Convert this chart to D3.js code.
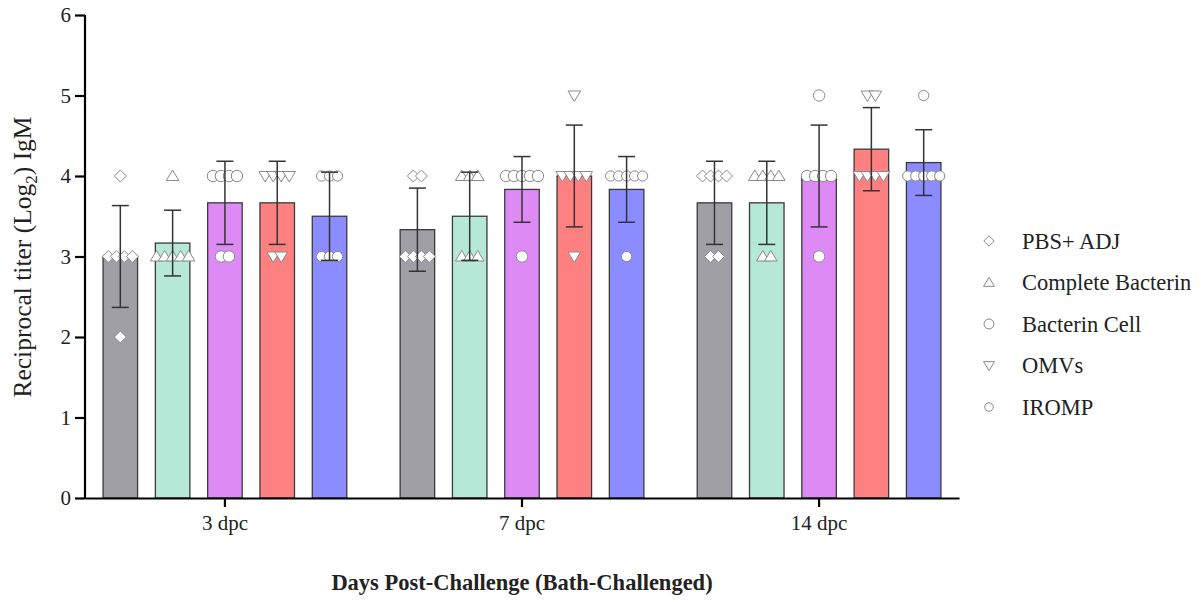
<!DOCTYPE html>
<html>
<head>
<meta charset="utf-8">
<script src="https://cdn.jsdelivr.net/npm/d3@7"></script>
<style>
  body { margin: 0; background: #fff; }
  svg text { font-family: "Liberation Serif", "Times New Roman", Times, serif; }
</style>
</head>
<body>
<div id="chart"></div>
<script>
// days post challenge
var days = ["3 dpc", "7 dpc", "14 dpc"];
var groups = ["PBS+ ADJ", "Complete Bacterin", "Bacterin Cell", "OMVs", "IROMP"];

// individual fish titers (log2) per group, one array per day
var pbsAdj      = [[2, 3, 3, 3, 3, 4], [3, 3, 3, 3, 4, 4], [3, 3, 4, 4, 4, 4]];
var complete    = [[3, 3, 3, 3, 3, 4], [3, 3, 3, 4, 4, 4], [3, 3, 4, 4, 4, 4]];
var bacterinCell = [[3, 3, 4, 4, 4, 4], [3, 4, 4, 4, 4, 4], [3, 4, 4, 4, 4, 5]];
var omvs        = [[3, 3, 4, 4, 4, 4], [3, 4, 4, 4, 4, 5], [4, 4, 4, 4, 5, 5]];
var iromp       = [[3, 3, 3, 4, 4, 4], [3, 4, 4, 4, 4, 4], [4, 4, 4, 4, 4, 5]];

var yTicks = [0, 1, 2, 3, 4, 5, 6];

var colors = ["#a09fa5", "#b5e8d6", "#dd8af5", "#ff8080", "#8a8cff"];
var shapes = ["diamond", "triangle", "circle", "triangleDown", "smallCircle"];

var allValues = [pbsAdj, complete, bacterinCell, omvs, iromp];

var W = 1201, H = 602;
var margin = {top: 15, right: 242, bottom: 104, left: 85},
    width = W - margin.left - margin.right,
    height = H - margin.top - margin.bottom;

var svg = d3.select("#chart").append("svg")
    .attr("width", W)
    .attr("height", H);

var g = svg.append("g")
    .attr("transform", "translate(" + margin.left + "," + margin.top + ")");

var x0 = d3.scaleBand().domain(days).range([0, width]).paddingInner(0).paddingOuter(-0.029);
var x1 = d3.scaleBand().domain(groups).range([0, x0.bandwidth()]).paddingInner(0.34).paddingOuter(0.51);
var y = d3.scaleLinear().domain([0, 6]).range([height, 0]);

// build the bar table: mean and sd per day & group
var bars = [];
days.forEach(function(day, di) {
    groups.forEach(function(grp, gi) {
        var vals = allValues[gi][di];
        bars.push({
            day: day, group: grp, gi: gi, values: vals,
            mean: d3.mean(vals), sd: d3.deviation(vals)
        });
    });
});

function symbolPath(shape, s) {
    var p = d3.path();
    if (shape === "diamond") {
        p.moveTo(0, -s); p.lineTo(s, 0); p.lineTo(0, s); p.lineTo(-s, 0); p.closePath();
    } else if (shape === "triangle") {
        p.moveTo(0, -s); p.lineTo(s * 1.05, s * 0.75); p.lineTo(-s * 1.05, s * 0.75); p.closePath();
    } else if (shape === "triangleDown") {
        p.moveTo(0, s); p.lineTo(s * 1.05, -s * 0.75); p.lineTo(-s * 1.05, -s * 0.75); p.closePath();
    } else if (shape === "circle") {
        p.arc(0, 0, s * 0.95, 0, 2 * Math.PI);
    } else {
        p.arc(0, 0, s * 0.85, 0, 2 * Math.PI);
    }
    return p.toString();
}

// bars
g.selectAll(".bar")
    .data(bars)
    .enter().append("rect")
    .attr("class", "bar")
    .attr("x", function(d) { return x0(d.day) + x1(d.group); })
    .attr("y", function(d) { return y(d.mean); })
    .attr("width", x1.bandwidth())
    .attr("height", function(d) { return height - y(d.mean); })
    .style("fill", function(d) { return colors[d.gi]; })
    .style("stroke", "#3a3a3a")
    .style("stroke-width", 1.3);

// individual points, spread sideways when they share a value
var pts = [];
bars.forEach(function(b) {
    var counts = d3.rollup(b.values, function(v) { return v.length; }, function(v) { return v; });
    var seen = new Map();
    b.values.forEach(function(v) {
        var k = counts.get(v), i = seen.get(v) || 0;
        seen.set(v, i + 1);
        pts.push({
            cx: x0(b.day) + x1(b.group) + x1.bandwidth() / 2 + (i - (k - 1) / 2) * 8,
            cy: y(v), gi: b.gi
        });
    });
});

g.selectAll(".pt")
    .data(pts)
    .enter().append("path")
    .attr("class", "pt")
    .attr("transform", function(d) { return "translate(" + d.cx + "," + d.cy + ")"; })
    .attr("d", function(d) { return symbolPath(shapes[d.gi], 6); })
    .style("fill", "#fff")
    .style("stroke", "#8a8a8a")
    .style("stroke-width", 1);

// error bars (mean ± SD)
var err = g.selectAll(".err")
    .data(bars)
    .enter().append("g")
    .attr("class", "err")
    .attr("transform", function(d) { return "translate(" + (x0(d.day) + x1(d.group) + x1.bandwidth() / 2) + ",0)"; })
    .style("stroke", "#333")
    .style("stroke-width", 1.5);

err.append("line")
    .attr("y1", function(d) { return y(d.mean + d.sd); })
    .attr("y2", function(d) { return y(d.mean - d.sd); });
err.append("line")
    .attr("x1", -8.5).attr("x2", 8.5)
    .attr("y1", function(d) { return y(d.mean + d.sd); })
    .attr("y2", function(d) { return y(d.mean + d.sd); });
err.append("line")
    .attr("x1", -8.5).attr("x2", 8.5)
    .attr("y1", function(d) { return y(d.mean - d.sd); })
    .attr("y2", function(d) { return y(d.mean - d.sd); });

// axes
var yAxis = g.append("g")
    .attr("class", "y axis")
    .call(d3.axisLeft(y).tickValues(yTicks).tickSize(10).tickSizeOuter(0).tickPadding(4).tickFormat(d3.format("d")));
yAxis.attr("font-family", null).attr("font-size", null);
yAxis.select(".domain").attr("d", "M0," + (height + 1) + "V0").style("stroke", "#000").style("stroke-width", 2.2);
yAxis.selectAll(".tick line").style("stroke", "#000").style("stroke-width", 2.2);
yAxis.selectAll(".tick text").style("font-size", "21px").attr("fill", "#222");

var xAxis = g.append("g")
    .attr("class", "x axis")
    .attr("transform", "translate(0," + height + ")")
    .call(d3.axisBottom(x0).tickSize(9).tickSizeOuter(0).tickPadding(8));
xAxis.attr("font-family", null).attr("font-size", null);
xAxis.select(".domain").style("stroke", "#000").style("stroke-width", 2.2);
xAxis.selectAll(".tick line").style("stroke", "#000").style("stroke-width", 2.2);
xAxis.selectAll(".tick text").style("font-size", "21px").attr("fill", "#222");

// axis titles
svg.append("text")
    .attr("x", margin.left + x0(days[1]) + x0.bandwidth() / 2)
    .attr("y", 590)
    .style("text-anchor", "middle")
    .style("font-size", "22.5px")
    .style("font-weight", "bold")
    .attr("fill", "#222")
    .text("Days Post-Challenge (Bath-Challenged)");

var yt = svg.append("text")
    .attr("transform", "translate(31,257) rotate(-90)")
    .style("text-anchor", "middle")
    .style("font-size", "25.5px")
    .attr("fill", "#222");
yt.append("tspan").text("Reciprocal titer (Log");
yt.append("tspan").attr("dy", 6).style("font-size", "17px").text("2");
yt.append("tspan").attr("dy", -6).text(") IgM");

// legend
var legend = svg.selectAll(".legend")
    .data(groups)
    .enter().append("g")
    .attr("class", "legend")
    .attr("transform", function(d, i) { return "translate(989," + (241 + i * 41.5) + ")"; });

legend.append("path")
    .attr("d", function(d, i) { return symbolPath(shapes[i], i === 4 ? 5 : 5.2); })
    .style("fill", "#fff")
    .style("stroke", "#8a8a8a")
    .style("stroke-width", 1);

legend.append("text")
    .attr("x", 33)
    .attr("dy", ".35em")
    .style("font-size", "22.5px")
    .attr("fill", "#222")
    .text(function(d) { return d; });
</script>
</body>
</html>
